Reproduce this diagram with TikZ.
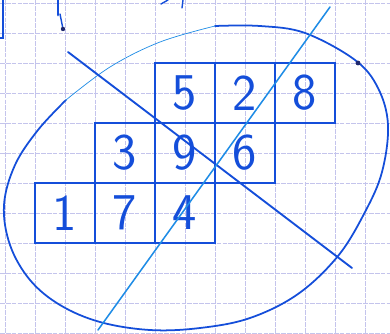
\documentclass[tikz,border=0pt]{standalone}
\usepackage{xcolor}
\definecolor{inkdark}{RGB}{20,78,218}
\definecolor{inklight}{RGB}{30,140,230}
\definecolor{inkdot}{RGB}{30,40,110}
\definecolor{gridblue}{RGB}{196,196,236}
\usetikzlibrary{arrows.meta,positioning,calc}

\begin{document}
\begin{tikzpicture}[
    x=0.03cm, y=-0.03cm,
    gridline/.style={gridblue, line width=0.6pt, dash pattern=on 4pt off 1pt},
    cell/.style={rectangle, minimum width=1.8cm, minimum height=1.8cm, inner sep=0pt,
      draw=inkdark, line width=2.3pt, text=inkdark,
      font=\fontsize{44}{44}\selectfont\sffamily},
    cross/.style={line width=1.6pt, line cap=round},
    loop/.style={inkdark, line width=1.5pt, line cap=round}
  ]
    \useasboundingbox[fill=white] (0,0) rectangle (390,333);

    % squared paper
    \foreach \gx in {5,35,...,395} \draw[gridline] (\gx,0) -- (\gx,333);
    \foreach \gy in {3,33,...,333} \draw[gridline] (0,\gy) -- (390,\gy);

    % scraps of the neighbouring page content
    \draw[inkdark, line width=2pt, line cap=round] (0,38) -- (3,38) -- (3,0);
    \draw[inkdark, line width=2.4pt, line cap=round] (58,0) -- (58,15);
    \draw[inkdark, line width=1.2pt, line cap=round] (60,14) -- (63,29);
    \fill[inkdot] (63,29) circle (2.2);
    \draw[inkdark, line width=1.2pt, line cap=round] (161,4) -- (168,0);
    \draw[inkdark, line width=1.2pt, line cap=round] (183,0) -- (182,8);

    % the nine cells
    \node[cell] (c5) at (185,93)  {5};
    \node[cell] (c2) at (245,93)  {2};
    \node[cell] (c8) at (305,93)  {8};
    \node[cell] (c3) at (125,153) {3};
    \node[cell] (c9) at (185,153) {9};
    \node[cell] (c6) at (245,153) {6};
    \node[cell] (c1) at (65,213)  {1};
    \node[cell] (c7) at (125,213) {7};
    \node[cell] (c4) at (185,213) {4};

    % loop round them
    \draw[loop] plot[smooth, tension=0.6] coordinates {
      (215,26) (260,26) (305,33) (355,60) (378,88) (388,125) (382,172) (365,212)
      (338,256) (298,294) (250,318) (200,328) (150,330) (100,322) (60,305)
      (30,280) (10,245) (4,205) (15,165) (38,130) (66,100)};
    \draw[loop, inklight, line width=0.6pt] plot[smooth, tension=0.6] coordinates {
      (66,100) (110,67) (160,42) (215,26)};
    \fill[inkdot] (358,63) circle (2.4);

    % crossing strokes
    \coordinate (pa) at (68,52);
    \coordinate (pb) at (352,268);
    \coordinate (qa) at (330,7);
    \coordinate (qb) at (98,330);
    \draw[cross, inkdark] (pa) -- (pb);
    \draw[cross, inklight, line width=1.3pt] (qa) -- (qb);
  \end{tikzpicture}
\end{document}
